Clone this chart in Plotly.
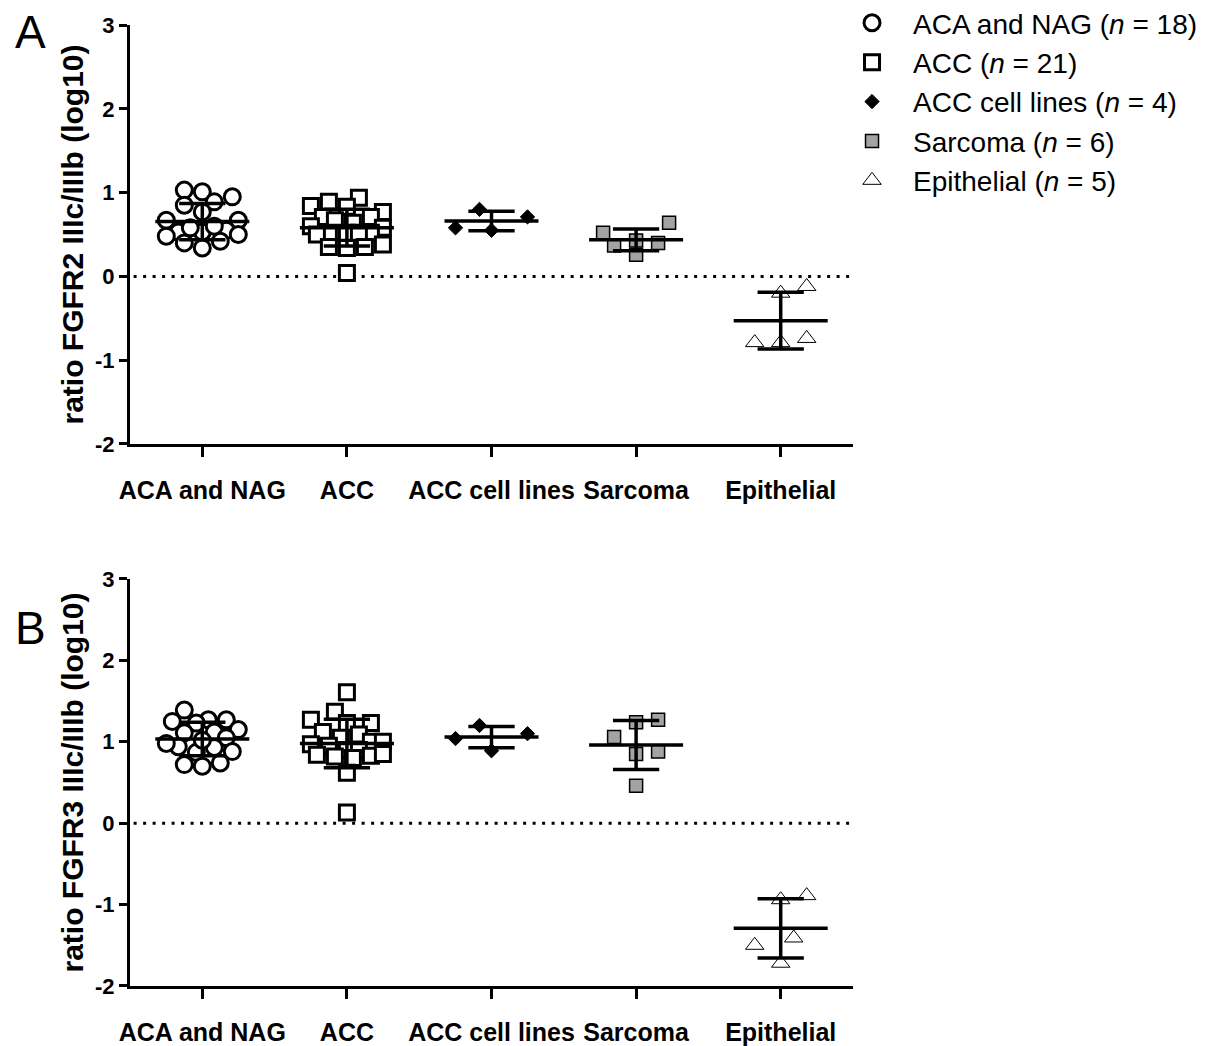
import numpy as np
import plotly.graph_objects as go

# ---------------- data ----------------
categories = ["ACA and NAG", "ACC", "ACC cell lines", "Sarcoma", "Epithelial"]
legend_labels = [
    "ACA and NAG (<i>n</i> = 18)",
    "ACC (<i>n</i> = 21)",
    "ACC cell lines (<i>n</i> = 4)",
    "Sarcoma (<i>n</i> = 6)",
    "Epithelial (<i>n</i> = 5)",
]

# Panel A: ratio FGFR2 IIIc/IIIb (log10)
fgfr2_aca_nag = [1.03, 0.95, 1.01, 0.89, 0.85, 0.77, 0.67, 0.67, 0.55, 0.53,
                 0.50, 0.53, 0.42, 0.34, 0.40, 0.60, 0.48, 0.58]
fgfr2_acc = [0.94, 0.89, 0.83, 0.84, 0.77, 0.71, 0.71, 0.67, 0.64, 0.58, 0.60,
             0.52, 0.52, 0.52, 0.52, 0.50, 0.35, 0.34, 0.35, 0.38, 0.04]
fgfr2_cell_lines = [0.71, 0.55, 0.58, 0.80]
fgfr2_sarcoma = [0.52, 0.64, 0.40, 0.26, 0.37, 0.43]
fgfr2_epithelial = [-0.12, -0.20, -0.74, -0.79, -0.79]

# Panel B: ratio FGFR3 IIIc/IIIb (log10)
fgfr3_aca_nag = [1.39, 1.27, 1.25, 1.27, 1.23, 1.12, 1.11, 1.15, 1.05, 0.94,
                 0.87, 0.93, 0.88, 0.74, 0.70, 0.72, 1.02, 0.98]
fgfr3_acc = [1.61, 1.37, 1.27, 1.23, 1.23, 1.12, 1.09, 1.05, 1.00, 1.00, 0.97,
             0.95, 0.90, 0.90, 0.82, 0.80, 0.84, 0.83, 0.85, 0.62, 0.13]
fgfr3_cell_lines = [1.10, 0.89, 1.04, 1.20]
fgfr3_sarcoma = [1.24, 1.27, 1.06, 0.88, 0.85, 0.46]
fgfr3_epithelial = [-0.89, -0.94, -1.41, -1.50, -1.72]

panel_a = [fgfr2_aca_nag, fgfr2_acc, fgfr2_cell_lines, fgfr2_sarcoma, fgfr2_epithelial]
panel_b = [fgfr3_aca_nag, fgfr3_acc, fgfr3_cell_lines, fgfr3_sarcoma, fgfr3_epithelial]

y_ticks = [-2, -1, 0, 1, 2, 3]
y_tick_text = ["-2", "-1", "0", "1", "2", "3"]

# ---------------- styles ----------------
FONT = "Liberation Sans"
marker_styles = [
    dict(symbol="circle", size=16, color="white", line=dict(color="black", width=3)),
    dict(symbol="square", size=15, color="white", line=dict(color="black", width=3)),
    dict(symbol="diamond", size=11, color="black", line=dict(color="black", width=1)),
    dict(symbol="square", size=13, color="#a3a3a3", line=dict(color="black", width=1.5)),
    dict(symbol="triangle-up", size=16, color="white", line=dict(color="black", width=1)),
]
# (collision distance px, step px, max half-width px) for swarm layout
swarm_params = [(15, 6, 40), (15, 6, 40), (30, 12, 38), (22, 11, 40), (26, 13, 28)]

X_UNIT_PX = 144.6


def swarm_offsets(vals, y_unit_px, diam, step, max_px):
    vals = np.asarray(vals, dtype=float)
    order = np.argsort(vals, kind="stable")
    placed = []
    out = np.zeros(len(vals))
    for n, i in enumerate(order):
        y = vals[i] * y_unit_px
        chosen = None
        best_x, best_d = 0.0, -1.0
        k = 0
        while k * step <= max_px and chosen is None:
            signs = [0] if k == 0 else ([1, -1] if n % 2 == 0 else [-1, 1])
            for s in signs:
                x = s * k * step
                dmin = min([np.hypot(x - px, y - py) for px, py in placed] or [1e9])
                if dmin >= diam:
                    chosen = x
                    break
                if dmin > best_d:
                    best_d, best_x = dmin, x
            k += 1
        if chosen is None:
            chosen = best_x
        placed.append((chosen, y))
        out[i] = chosen / X_UNIT_PX
    return out


fig = go.Figure()

panels = [(panel_a, "x", "y", 83.7), (panel_b, "x2", "y2", 81.3)]
for p, (groups, xa, ya, yunit) in enumerate(panels):
    lx, ly = [], []
    for i, vals in enumerate(groups):
        offs = swarm_offsets(vals, yunit, *swarm_params[i])
        fig.add_trace(go.Scatter(
            x=i + offs, y=vals, mode="markers", xaxis=xa, yaxis=ya,
            marker=marker_styles[i], name=legend_labels[i],
            legendgroup=categories[i], showlegend=(p == 0), hoverinfo="y",
        ))
        m = float(np.mean(vals))
        s = float(np.std(vals, ddof=1))
        lx += [i - 0.325, i + 0.325, None, i, i, None,
               i - 0.16, i + 0.16, None, i - 0.16, i + 0.16, None]
        ly += [m, m, None, m - s, m + s, None,
               m + s, m + s, None, m - s, m - s, None]
    fig.add_trace(go.Scatter(x=lx, y=ly, mode="lines", xaxis=xa, yaxis=ya,
                             line=dict(color="black", width=3.5),
                             showlegend=False, hoverinfo="skip"))

# zero reference lines
for xr, yr in [("x domain", "y"), ("x2 domain", "y2")]:
    fig.add_shape(type="line", xref=xr, yref=yr, x0=0.005, x1=0.995, y0=0, y1=0,
                  line=dict(color="black", width=3, dash="3px,6.5px"), layer="below")

axis_common = dict(showline=True, linecolor="black", linewidth=3, ticks="outside",
                   tickcolor="black", tickwidth=3, showgrid=False, zeroline=False,
                   automargin=False)

xaxis_cfg = dict(axis_common, range=[-0.5, 4.5], tickmode="array",
                 tickvals=list(range(len(categories))), ticktext=categories,
                 ticklen=10, tickfont=dict(family=FONT, size=25, color="black", weight="bold"),
                 ticklabelstandoff=12)
yaxis_cfg = dict(axis_common, range=[-2, 3], tickmode="array", tickvals=y_ticks,
                 ticktext=y_tick_text, ticklen=8,
                 tickfont=dict(family=FONT, size=22, color="black", weight="bold"))

title_font = dict(family=FONT, size=30, color="black", weight="bold")

fig.update_layout(
    width=1218, height=1046,
    margin=dict(l=130, r=365, t=0, b=60, autoexpand=False),
    paper_bgcolor="white", plot_bgcolor="white",
    xaxis=dict(xaxis_cfg, domain=[0, 1], anchor="y"),
    xaxis2=dict(xaxis_cfg, domain=[0, 1], anchor="y2"),
    yaxis=dict(yaxis_cfg, domain=[0.5497, 0.9746], anchor="x",
               title=dict(text="ratio FGFR2 IIIc/IIIb (log10)", standoff=3, font=title_font)),
    yaxis2=dict(yaxis_cfg, domain=[0.0, 0.4128], anchor="x2",
                title=dict(text="ratio FGFR3 IIIc/IIIb (log10)", standoff=3, font=title_font)),
    legend=dict(x=0.9696, xanchor="left", y=1.002, yanchor="top",
                traceorder="grouped", tracegroupgap=0, itemwidth=72,
                font=dict(family=FONT, size=28, color="black"),
                bgcolor="rgba(0,0,0,0)"),
    annotations=[
        dict(text="A", x=-0.137, y=0.9675, xref="paper", yref="paper",
             xanchor="center", yanchor="middle",
             showarrow=False, font=dict(family=FONT, size=46, color="black")),
        dict(text="B", x=-0.137, y=0.3631, xref="paper", yref="paper",
             xanchor="center", yanchor="middle",
             showarrow=False, font=dict(family=FONT, size=46, color="black")),
    ],
    showlegend=True,
)

fig.write_html("out.html")
